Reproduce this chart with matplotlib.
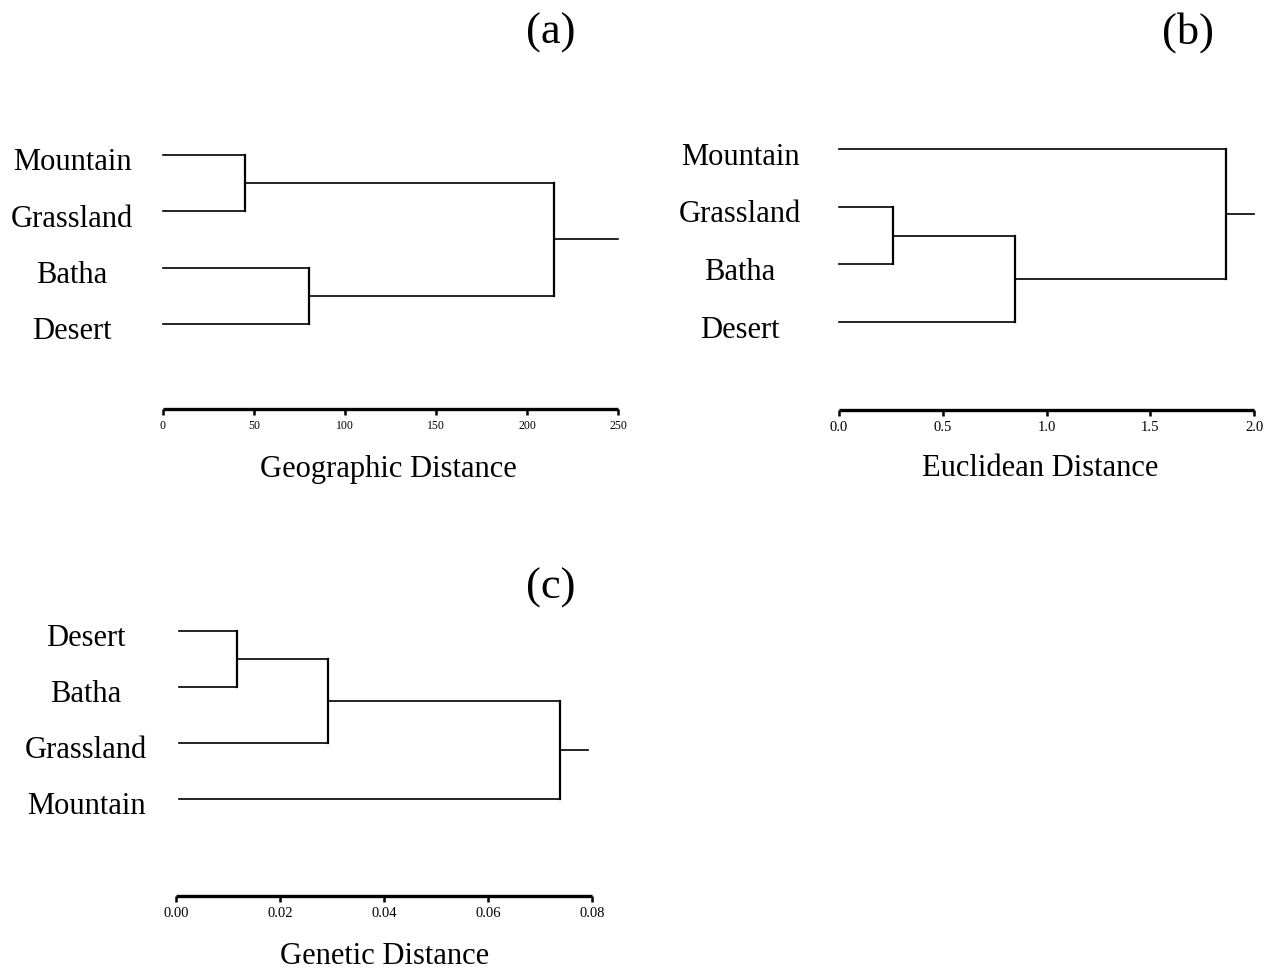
import matplotlib
matplotlib.use("Agg")
import matplotlib.pyplot as plt
import matplotlib.transforms as mtransforms

plt.rcParams['font.family'] = ['Liberation Serif', 'DejaVu Serif']

W, H = 1273, 973

# panel (a): geographic distance
a_leaves = ["Mountain", "Grassland", "Batha", "Desert"]
a_merges = [(0, 1, 45), (2, 3, 80), (4, 5, 215)]
a_root_end = 250
a_ticks = [0, 50, 100, 150, 200, 250]
a_ticklabels = ["0", "50", "100", "150", "200", "250"]

# panel (b): euclidean distance
b_leaves = ["Mountain", "Grassland", "Batha", "Desert"]
b_merges = [(1, 2, 0.26), (4, 3, 0.848), (0, 5, 1.865)]
b_root_end = 2.0
b_ticks = [0.0, 0.5, 1.0, 1.5, 2.0]
b_ticklabels = ["0.0", "0.5", "1.0", "1.5", "2.0"]

# panel (c): genetic distance
c_leaves = ["Desert", "Batha", "Grassland", "Mountain"]
c_merges = [(0, 1, 0.0117), (4, 2, 0.0292), (5, 3, 0.0738)]
c_root_end = 0.0792
c_ticks = [0.0, 0.02, 0.04, 0.06, 0.08]
c_ticklabels = ["0.00", "0.02", "0.04", "0.06", "0.08"]


def dendro_panel(fig, leaves, merges, root_end, ticks, ticklabels,
                 x0, x1, y_leaf0, spacing, y_axis, label_x, tick_fs,
                 leaf_start=0.0):
    # axes placed so that data x spans the scale bar in pixels
    n_units = (y_axis - y_leaf0) / spacing
    top_pix = y_leaf0 - 0.6 * spacing
    ax = fig.add_axes([x0 / W, 1 - y_axis / H, (x1 - x0) / W,
                       (y_axis - top_pix) / H])
    ax.set_xlim(ticks[0], ticks[-1])
    ax.set_ylim(n_units, -0.6)

    n = len(leaves)
    xs = [leaf_start] * n
    ys = list(range(n))
    for i, j, h in merges:
        ax.plot([xs[i], h], [ys[i], ys[i]], color="black", lw=1.2, clip_on=False)
        ax.plot([xs[j], h], [ys[j], ys[j]], color="black", lw=1.2, clip_on=False)
        ax.plot([h, h], [ys[i], ys[j]], color="black", lw=1.6, clip_on=False)
        xs.append(h)
        ys.append((ys[i] + ys[j]) / 2)
    ax.plot([xs[-1], root_end], [ys[-1], ys[-1]], color="black", lw=1.2,
            clip_on=False)

    trans = mtransforms.blended_transform_factory(fig.transFigure, ax.transData)
    for k, name in enumerate(leaves):
        ax.text(label_x / W, k + 0.14, name, transform=trans, ha="center",
                va="center", fontsize=22)

    for s in ["top", "right", "left"]:
        ax.spines[s].set_visible(False)
    ax.spines["bottom"].set_linewidth(2.4)
    ax.spines["bottom"].set_capstyle("butt")
    ax.set_yticks([])
    ax.set_xticks(ticks)
    ax.set_xticklabels(ticklabels)
    ax.tick_params(axis="x", direction="out", length=4, width=1.8,
                   labelsize=tick_fs, pad=4)
    return ax


fig = plt.figure(figsize=(W / 100, H / 100), dpi=100)

dendro_panel(fig, a_leaves, a_merges, a_root_end, a_ticks, a_ticklabels,
             163, 618, 155, 56.3, 409, 72, 8.5)
dendro_panel(fig, b_leaves, b_merges, b_root_end, b_ticks, b_ticklabels,
             839, 1254, 149, 57.7, 410, 740, 10.5)
dendro_panel(fig, c_leaves, c_merges, c_root_end, c_ticks, c_ticklabels,
             176, 592, 631, 56, 896, 86, 10.5, leaf_start=0.0005)

fig.text(551 / W, 1 - 33 / H, "(a)", ha="center", va="center", fontsize=32)
fig.text(1188 / W, 1 - 33 / H, "(b)", ha="center", va="center", fontsize=32)
fig.text(551 / W, 1 - 588 / H, "(c)", ha="center", va="center", fontsize=32)

fig.text(388 / W, 1 - 470 / H, "Geographic Distance", ha="center",
         va="center", fontsize=22)
fig.text(1040 / W, 1 - 469 / H, "Euclidean Distance", ha="center",
         va="center", fontsize=22)
fig.text(385 / W, 1 - 957 / H, "Genetic Distance", ha="center",
         va="center", fontsize=22)

fig.savefig("out.png", dpi=100)
